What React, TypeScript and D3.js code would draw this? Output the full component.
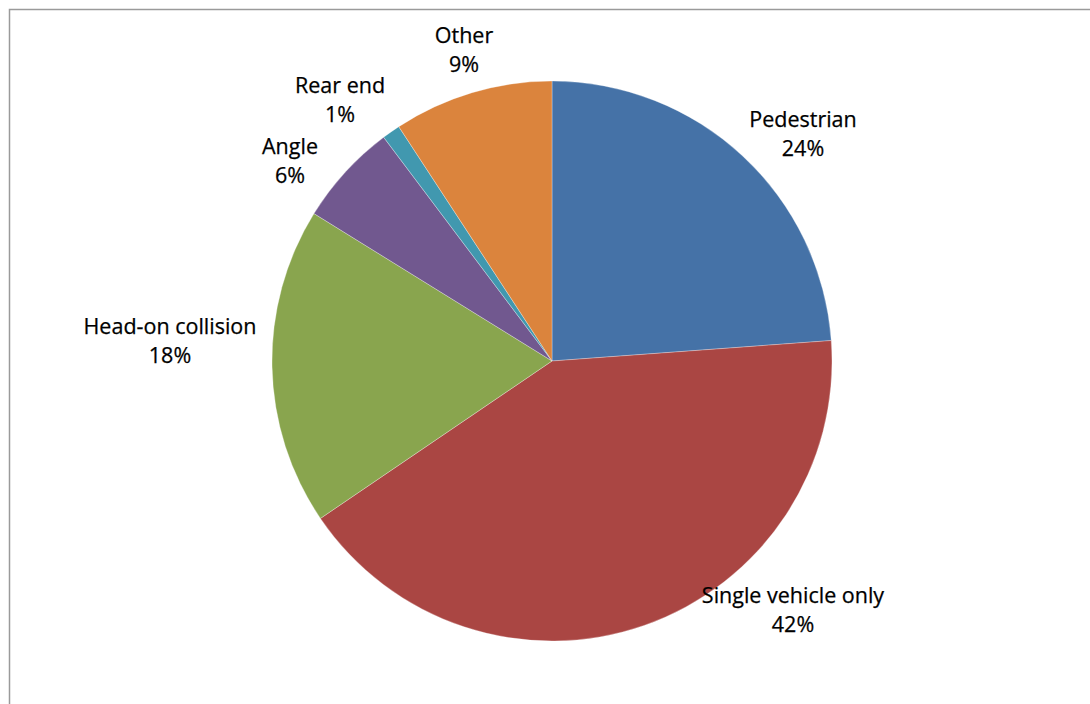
import React from "react";
import * as d3 from "d3";

const categories = ["Pedestrian", "Single vehicle only", "Head-on collision", "Angle", "Rear end", "Other"];
const values = [23.8, 41.6, 18.3, 5.9, 1.05, 9.2];
const percentLabels = ["24%", "42%", "18%", "6%", "1%", "9%"];
const colors = ["#4572A7", "#AA4643", "#89A54E", "#71588F", "#4198AF", "#DB843D"];
// label centre offsets from pie centre (layout only)
const labelOffsets: [number, number][] = [
  [251, -228],
  [241, 248],
  [-382, -21],
  [-262, -201],
  [-212, -262],
  [-88, -312],
];

const W = 1090;
const H = 704;
const cx = 552;
const cy = 361;
const R = 280;

export default function App() {
  const pie = d3
    .pie<number>()
    .sort(null)
    .value((d) => d)
    .startAngle(0)
    .endAngle(2 * Math.PI);
  const arcs = pie(values);
  const arc = d3.arc<d3.PieArcDatum<number>>().innerRadius(0).outerRadius(R);

  return (
    <svg
      width={W}
      height={H}
      style={{ position: "absolute", left: 0, top: 0, background: "#fff" }}
      fontFamily="'Open Sans', Lato, sans-serif"
    >
      <rect x={9.5} y={9.5} width={W + 20} height={H + 20} fill="#fff" stroke="#9a9a9a" strokeWidth={1.5} />
      <g transform={`translate(${cx},${cy})`}>
        {arcs.map((a, i) => (
          <path key={categories[i]} d={arc(a) || ""} fill={colors[i]} stroke="#ffffff" strokeWidth={0.3} />
        ))}
        {arcs.map((a, i) => (
          <text
            key={"l" + categories[i]}
            x={labelOffsets[i][0]}
            y={labelOffsets[i][1]}
            textAnchor="middle"
            fontSize={21.5}
            fill="#000"
            stroke="#000"
            strokeWidth={0.25}
          >
            <tspan x={labelOffsets[i][0]} dy={-6}>
              {categories[i]}
            </tspan>
            <tspan x={labelOffsets[i][0]} dy={29}>
              {percentLabels[i]}
            </tspan>
          </text>
        ))}
      </g>
    </svg>
  );
}
